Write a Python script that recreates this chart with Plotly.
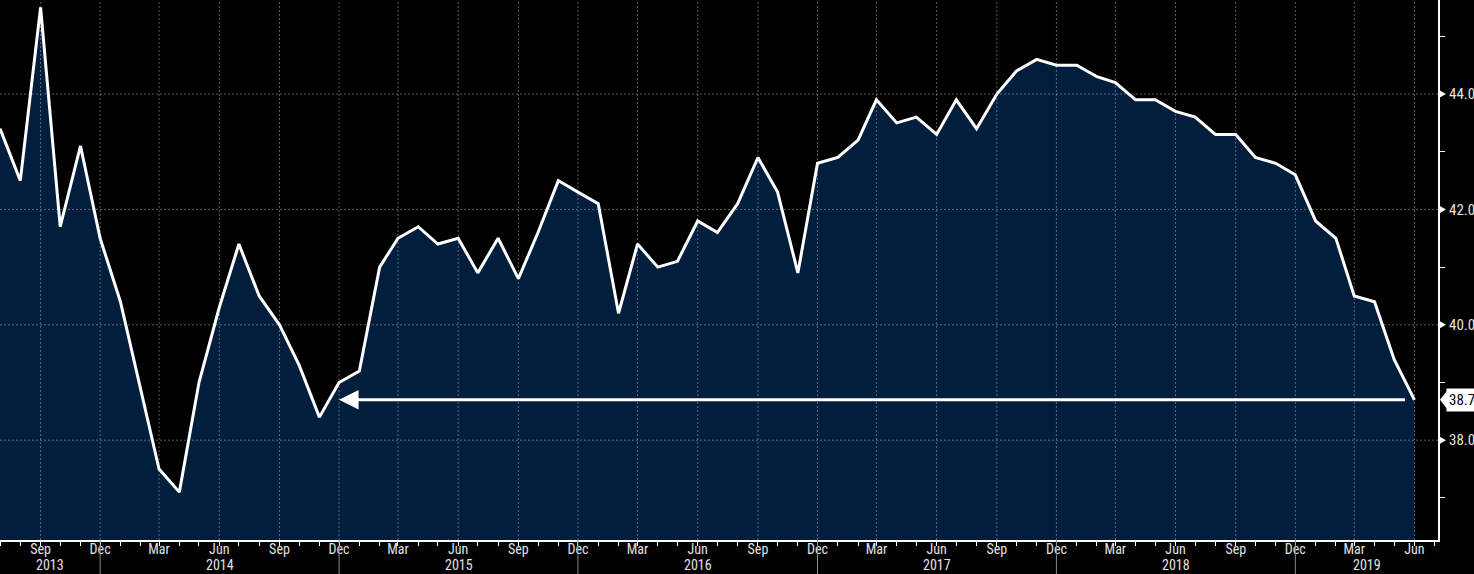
import pandas as pd
import plotly.graph_objects as go

# ---- data (monthly, Jul 2013 - Jun 2019) ----
vals_2013 = [43.4, 42.5, 45.5, 41.7, 43.1, 41.5]
vals_2014 = [40.4, 38.9, 37.5, 37.1, 39.0, 40.3, 41.4, 40.5, 40.0, 39.3, 38.4, 39.0]
vals_2015 = [39.2, 41.0, 41.5, 41.7, 41.4, 41.5, 40.9, 41.5, 40.8, 41.6, 42.5, 42.3]
vals_2016 = [42.1, 40.2, 41.4, 41.0, 41.1, 41.8, 41.6, 42.1, 42.9, 42.3, 40.9, 42.8]
vals_2017 = [42.9, 43.2, 43.9, 43.5, 43.6, 43.3, 43.9, 43.4, 44.0, 44.4, 44.6, 44.5]
vals_2018 = [44.5, 44.3, 44.2, 43.9, 43.9, 43.7, 43.6, 43.3, 43.3, 42.9, 42.8, 42.6]
vals_2019 = [41.8, 41.5, 40.5, 40.4, 39.4, 38.7]
values = vals_2013 + vals_2014 + vals_2015 + vals_2016 + vals_2017 + vals_2018 + vals_2019
dates = pd.date_range("2013-07-01", periods=len(values), freq="MS")

y_ticks = [38, 40, 42, 44]
y_minor = [37, 39, 41, 43, 45]
year_labels = ["2013", "2014", "2015", "2016", "2017", "2018", "2019"]
arrow_from = "2014-12-01"

x_range = [pd.Timestamp("2013-07-01"), pd.Timestamp("2019-07-07")]
y_range = [36.27, 45.63]

FONT = "Liberation Sans Narrow, Roboto Condensed, Arial Narrow, Liberation Sans, sans-serif"
NAVY = "#021E3D"
GRID = "rgba(190,200,215,0.45)"
TXT = "#E2E2E2"

fig = go.Figure()

# filled area
fig.add_trace(go.Scatter(x=dates, y=values, mode="lines", line=dict(width=0, color=NAVY),
                         fill="tozeroy", fillcolor=NAVY, hoverinfo="skip", showlegend=False))

# grid lines drawn above the fill
quarters = pd.date_range("2013-09-01", "2019-06-01", freq="3MS")
gx, gy = [], []
for q in quarters:
    gx += [q, q, None]
    gy += [y_range[0], y_range[1], None]
for t in y_ticks:
    gx += [x_range[0], x_range[1], None]
    gy += [t, t, None]
fig.add_trace(go.Scatter(x=gx, y=gy, mode="lines", line=dict(color=GRID, width=1, dash="2px,2px"),
                         hoverinfo="skip", showlegend=False))

# main line
fig.add_trace(go.Scatter(x=dates, y=values, mode="lines", line=dict(color="white", width=3),
                         showlegend=False))

annotations = []
# arrow at last value back to Dec 2014
annotations.append(dict(x=arrow_from, y=values[-1], xref="x", yref="y",
                        ax=dates[-1], ay=values[-1], axref="x", ayref="y",
                        text="", showarrow=True, arrowhead=2, arrowsize=1.3,
                        arrowwidth=3, arrowcolor="white", startstandoff=8))
# last value label
annotations.append(dict(x=1, y=values[-1], xref="paper", yref="y", xanchor="left", yanchor="middle",
                        xshift=8, text=f"{values[-1]:.1f}", showarrow=False,
                        bgcolor="white", borderpad=2, font=dict(color="black", size=15, family=FONT)))

# year labels and separators
decs = [pd.Timestamp(f"{y}-12-01") for y in range(2013, 2019)]
bounds = [x_range[0]] + decs + [x_range[1]]
shapes = []
for i, lab in enumerate(year_labels):
    mid = bounds[i] + (bounds[i + 1] - bounds[i]) / 2
    annotations.append(dict(x=mid, y=-0.047, xref="x", yref="paper", text=lab, showarrow=False,
                            yanchor="middle", font=dict(color=TXT, size=14, family=FONT)))
for d in decs:
    shapes.append(dict(type="line", xref="x", yref="paper", x0=d, x1=d, y0=0, y1=-0.07,
                       line=dict(color="#8A8A8A", width=1)))
# notch of value label
shapes.append(dict(type="path", xref="paper", yref="y", xsizemode="pixel", ysizemode="pixel",
                   xanchor=1, yanchor=values[-1], path="M 2,0 L 9,9 L 9,-9 Z",
                   fillcolor="white", line=dict(width=0)))
# small triangle markers at major y ticks
for t in y_ticks:
    shapes.append(dict(type="path", xref="paper", yref="y", xsizemode="pixel", ysizemode="pixel",
                       xanchor=1, yanchor=t, path="M 1,4 L 8,0 L 1,-4 Z",
                       fillcolor="white", line=dict(width=0)))

fig.update_layout(
    width=1474, height=574,
    margin=dict(l=0, r=36, t=0, b=34, autoexpand=False),
    paper_bgcolor="black", plot_bgcolor="black",
    font=dict(family=FONT, color=TXT, size=14),
    annotations=annotations, shapes=shapes,
    showlegend=False,
)
fig.update_xaxes(
    type="date", range=x_range, showgrid=False, zeroline=False, automargin=False,
    showline=True, linecolor="white", linewidth=2,
    tick0="2013-09-01", dtick="M3", tickformat="%b",
    ticks="outside", ticklen=4, tickcolor="white", tickwidth=1,
    ticklabelstandoff=-9,
    tickfont=dict(size=14, color=TXT, family=FONT),
    minor=dict(dtick="M1", tick0="2013-07-01", ticks="outside", ticklen=4, tickcolor="white", showgrid=False),
)
fig.update_yaxes(
    range=y_range, side="right", showgrid=False, zeroline=False, automargin=False,
    showline=True, linecolor="white", linewidth=2,
    tickvals=y_ticks, ticktext=[f"{v:.1f}" for v in y_ticks],
    ticks="", ticklabelstandoff=6,
    tickfont=dict(size=15, color=TXT, family=FONT),
    minor=dict(tickvals=y_minor, ticks="outside", ticklen=5, tickcolor="white", showgrid=False),
)

fig.write_html("out.html")
